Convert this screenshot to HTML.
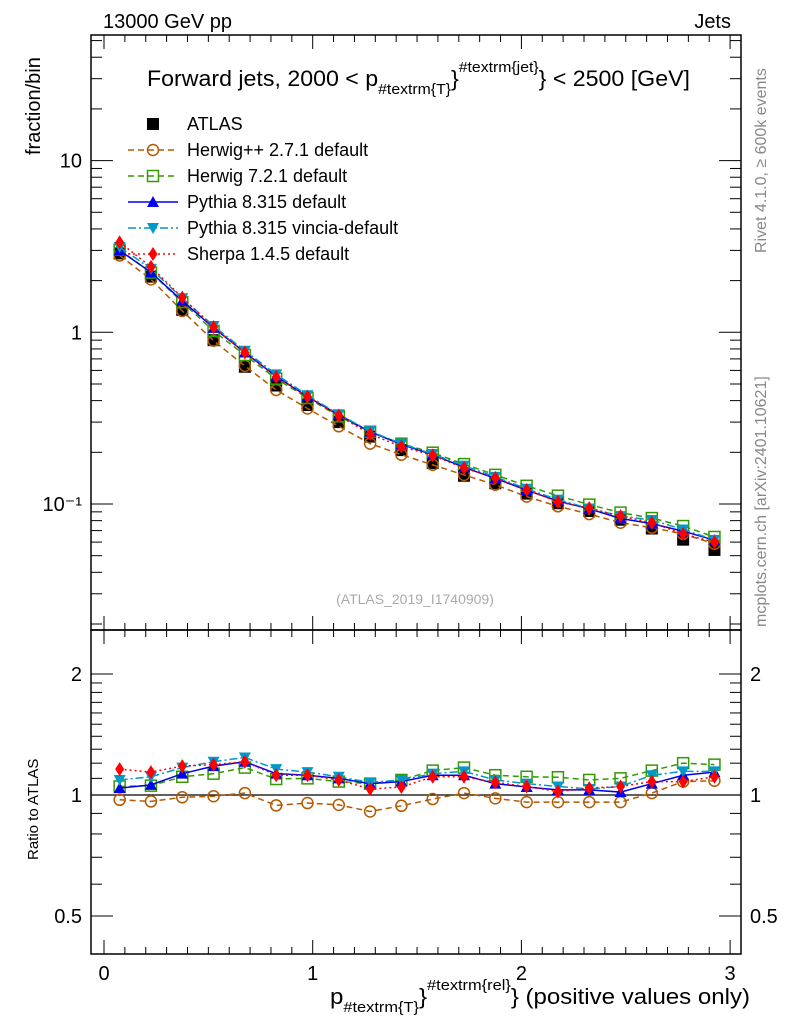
<!DOCTYPE html>
<html><head><meta charset="utf-8"><style>
body{margin:0;background:#fff;}
svg text{font-family:"Liberation Sans",Arial,sans-serif;}
</style></head><body>
<svg id="c" width="786" height="1024" xmlns="http://www.w3.org/2000/svg">
<rect width="786" height="1024" fill="#fff"/>
<g id="main"></g>
<g id="ratio"></g>
<text x="103" y="28" font-size="20">13000 GeV pp</text>
<text x="731" y="28" font-size="20" text-anchor="end">Jets</text>
<text transform="translate(766,253) rotate(-90)" font-size="16" fill="#888">Rivet 4.1.0, ≥ 600k events</text>
<text transform="translate(766,627) rotate(-90)" font-size="16" fill="#888">mcplots.cern.ch [arXiv:2401.10621]</text>
<text transform="translate(40,155) rotate(-90)" font-size="20">fraction/bin</text>
<text transform="translate(38,860) rotate(-90)" font-size="15">Ratio to ATLAS</text>
<text x="415" y="604" font-size="14" fill="#aaa" text-anchor="middle">(ATLAS_2019_I1740909)</text>
<text x="147" y="86" font-size="22" textLength="543" lengthAdjust="spacingAndGlyphs">Forward jets, 2000 &lt; p<tspan font-size="15" dy="8">#textrm{T}</tspan><tspan dy="-8">}</tspan><tspan font-size="15" dy="-14">#textrm{jet}</tspan><tspan dy="14">} &lt; 2500 [GeV]</tspan></text>
<text x="330" y="1004" font-size="22" textLength="420" lengthAdjust="spacingAndGlyphs">p<tspan font-size="15" dy="8">#textrm{T}</tspan><tspan dy="-8">}</tspan><tspan font-size="15" dy="-14">#textrm{rel}</tspan><tspan dy="14">} (positive values only)</tspan></text>
<g id="legend"></g>
</svg>
<script>
const xEdges=[0,0.15,0.3,0.45,0.6,0.75,0.9,1.05,1.2,1.35,1.5,1.65,1.8,1.95,2.1,2.25,2.4,2.55,2.7,2.85,3.0];
const atlas=[2.88,2.11,1.35,0.90,0.63,0.49,0.377,0.30,0.247,0.206,0.173,0.146,0.132,0.115,0.101,0.091,0.081,0.072,0.062,0.054];
const rHpp=[0.973,0.964,0.987,0.993,1.011,0.942,0.955,0.945,0.91,0.94,0.977,1.011,0.981,0.96,0.96,0.96,0.96,1.011,1.08,1.085];
const rH7=[1.05,1.055,1.11,1.13,1.17,1.096,1.10,1.08,1.067,1.09,1.15,1.17,1.12,1.11,1.107,1.09,1.10,1.15,1.20,1.19];
const rPy=[1.04,1.06,1.13,1.18,1.21,1.13,1.12,1.10,1.067,1.08,1.12,1.12,1.067,1.047,1.03,1.03,1.017,1.067,1.12,1.14];
const rVin=[1.09,1.11,1.17,1.21,1.24,1.16,1.14,1.11,1.075,1.09,1.13,1.145,1.09,1.067,1.05,1.035,1.05,1.12,1.145,1.145];
const rSh=[1.16,1.14,1.18,1.19,1.21,1.12,1.12,1.09,1.035,1.047,1.11,1.11,1.075,1.05,1.02,1.04,1.05,1.08,1.08,1.11];
const xTicks=[0,1,2,3];
const yTicks=[0.1,1,10];
const yTickLabels=["10⁻¹","1","10"];
const rTicks=[0.5,1,2];
const rTickLabels=["0.5","1","2"];
const seriesNames=["Herwig++ 2.7.1 default","Herwig 7.2.1 default","Pythia 8.315 default","Pythia 8.315 vincia-default","Sherpa 1.4.5 default"];

const NS="http://www.w3.org/2000/svg";
const L=91,R=741,MT=35,MB=630,RT=630,RB=954;
const X=v=>104+208.7*v;
const Y=v=>332.3-171.7*Math.log10(v);
const YR=v=>795-121*Math.log2(v);
function mk(tag,attrs,parent){const e=document.createElementNS(NS,tag);for(const k in attrs)e.setAttribute(k,attrs[k]);parent.appendChild(e);return e;}
const main=document.getElementById('main'),ratio=document.getElementById('ratio'),leg=document.getElementById('legend');

const styles=[
 {c:"#b35900",dash:"6,4",m:"circle"},
 {c:"#339900",dash:"6,4",m:"square"},
 {c:"#0000ee",dash:"",m:"tri"},
 {c:"#0099cc",dash:"8,3,2,3",m:"tridown"},
 {c:"#ff0000",dash:"2,3",m:"diamond"}];
const ratios=[rHpp,rH7,rPy,rVin,rSh];
const centers=atlas.map((_,i)=>(xEdges[i]+xEdges[i+1])/2);

function marker(type,x,y,c,g){
 let e;
 if(type==="circle")e=mk('circle',{cx:x,cy:y,r:5.5,fill:'none',stroke:c,'stroke-width':1.5},g);
 else if(type==="square")e=mk('rect',{x:x-5.5,y:y-5.5,width:11,height:11,fill:'none',stroke:c,'stroke-width':1.5},g);
 else if(type==="tri")e=mk('polygon',{points:`${x},${y-6} ${x-6},${y+5} ${x+6},${y+5}`,fill:c},g);
 else if(type==="tridown")e=mk('polygon',{points:`${x},${y+6} ${x-6},${y-5} ${x+6},${y-5}`,fill:c},g);
 else if(type==="diamond")e=mk('polygon',{points:`${x},${y-7} ${x-4.5},${y} ${x},${y+7} ${x+4.5},${y}`,fill:c},g);
 else e=mk('rect',{x:x-6,y:y-6,width:12,height:12,fill:c},g);
 return e;
}

mk('rect',{x:L,y:MT,width:R-L,height:MB-MT,fill:'none',stroke:'#000','stroke-width':1.5},main);
mk('rect',{x:L,y:RT,width:R-L,height:RB-RT,fill:'none',stroke:'#000','stroke-width':1.5},ratio);
for(let v=0;v<=3.001;v+=0.1){
 const major=Math.abs(v-Math.round(v))<1e-6;const len=major?14:7;const x=X(v);
 mk('line',{x1:x,y1:MB,x2:x,y2:MB-len,stroke:'#000'},main);
 mk('line',{x1:x,y1:MT,x2:x,y2:MT+len,stroke:'#000'},main);
 mk('line',{x1:x,y1:RB,x2:x,y2:RB-len,stroke:'#000'},ratio);
 mk('line',{x1:x,y1:RT,x2:x,y2:RT+len,stroke:'#000'},ratio);
}
xTicks.forEach(v=>{const t=mk('text',{x:X(v),y:980,'font-size':20,'text-anchor':'middle'},ratio);t.textContent=v;
 
 });
for(let d=-2;d<=1;d++)for(let k=1;k<10;k++){const v=k*Math.pow(10,d);const y=Y(v);if(y<MT||y>MB)continue;
 const len=k===1?22:11;
 mk('line',{x1:L,y1:y,x2:L+len,y2:y,stroke:'#000'},main);
 mk('line',{x1:R,y1:y,x2:R-len,y2:y,stroke:'#000'},main);}
yTicks.forEach((v,i)=>{const t=mk('text',{x:82,y:Y(v)+7,'font-size':20,'text-anchor':'end'},main);t.textContent=yTickLabels[i];
 
 });
[0.4,0.5,0.6,0.7,0.8,0.9,1,2].forEach(v=>{const y=YR(v);if(y>RB)return;const len=(v===0.5||v===1||v===2)?22:11;
 mk('line',{x1:L,y1:y,x2:L+len,y2:y,stroke:'#000'},ratio);mk('line',{x1:R,y1:y,x2:R-len,y2:y,stroke:'#000'},ratio);});
[1.1,1.2,1.3,1.4,1.5,1.6,1.7,1.8,1.9].forEach(v=>{const y=YR(v);mk('line',{x1:L,y1:y,x2:L+11,y2:y,stroke:'#000'},ratio);mk('line',{x1:R,y1:y,x2:R-11,y2:y,stroke:'#000'},ratio);});
rTicks.forEach((v,i)=>{const t=mk('text',{x:82,y:YR(v)+7,'font-size':20,'text-anchor':'end'},ratio);t.textContent=rTickLabels[i];
 
 
 const t2=mk('text',{x:750,y:YR(v)+7,'font-size':20},ratio);t2.textContent=rTickLabels[i];
 
 });
mk('line',{x1:L,y1:YR(1),x2:R,y2:YR(1),stroke:'#000','stroke-width':1.2},ratio);

atlas.forEach((v,i)=>{const m=marker('sq',X(centers[i]),Y(v),'#000',main);
 
 });
styles.forEach((s,si)=>{
 const vals=atlas.map((a,i)=>a*ratios[si][i]);
 const g=mk('g',{},main);
 
 
 mk('polyline',{points:vals.map((v,i)=>X(centers[i])+','+Y(v)).join(' '),fill:'none',stroke:s.c,'stroke-width':1.5,'stroke-dasharray':s.dash},g);
 vals.forEach((v,i)=>marker(s.m,X(centers[i]),Y(v),s.c,g));
 const gr=mk('g',{},ratio);
 
 
 mk('polyline',{points:ratios[si].map((v,i)=>X(centers[i])+','+YR(v)).join(' '),fill:'none',stroke:s.c,'stroke-width':1.5,'stroke-dasharray':s.dash},gr);
 ratios[si].forEach((v,i)=>marker(s.m,X(centers[i]),YR(v),s.c,gr));
});
const ly0=124,ldy=26;
{const m=marker('sq',153,ly0,'#000',leg);const t=mk('text',{x:187,y:ly0+6,'font-size':18},leg);t.textContent='ATLAS';
 
 }
styles.forEach((s,si)=>{const y=ly0+ldy*(si+1);
 mk('line',{x1:128,y1:y,x2:178,y2:y,stroke:s.c,'stroke-width':1.5,'stroke-dasharray':s.dash},leg);
 marker(s.m,153,y,s.c,leg);
 const t=mk('text',{x:187,y:y+6,'font-size':18},leg);t.textContent=seriesNames[si];
 
 });
</script>
</body></html>
